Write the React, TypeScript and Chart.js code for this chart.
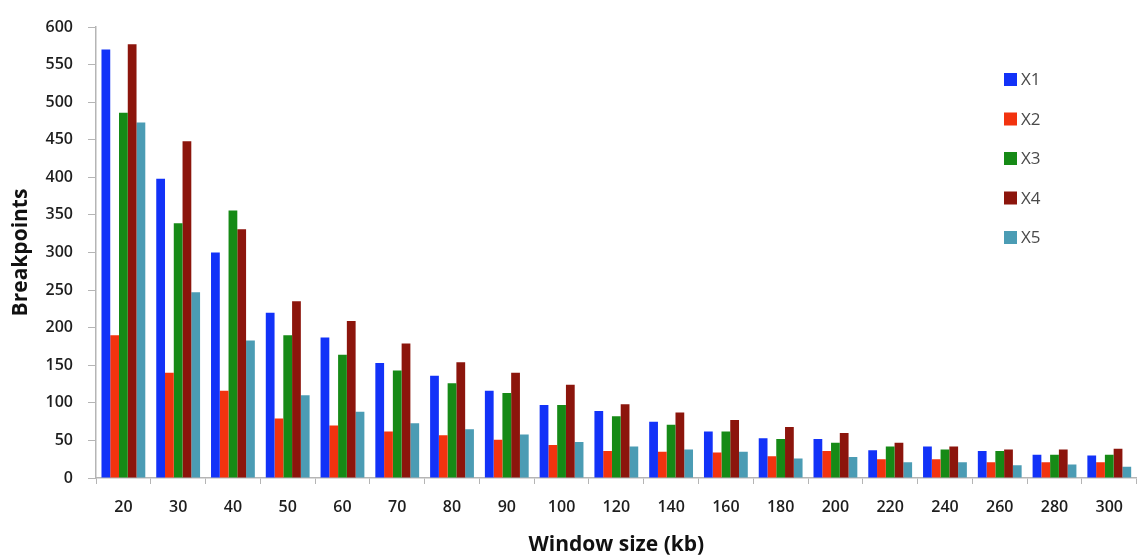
import React, { useEffect, useRef } from "react";
import { Chart, registerables } from "chart.js";

Chart.register(...registerables);

const categories = ["20", "30", "40", "50", "60", "70", "80", "90", "100", "120", "140", "160", "180", "200", "220", "240", "260", "280", "300"];
const x1 = [570, 398, 300, 220, 187, 153, 136, 116, 97, 89, 75, 62, 53, 52, 37, 42, 36, 31, 30];
const x2 = [190, 140, 116, 79, 70, 62, 57, 51, 44, 36, 35, 34, 29, 36, 25, 25, 21, 21, 21];
const x3 = [486, 339, 356, 190, 164, 143, 126, 113, 97, 82, 71, 62, 52, 47, 42, 38, 36, 31, 31];
const x4 = [577, 448, 331, 235, 209, 179, 154, 140, 124, 98, 87, 77, 68, 60, 47, 42, 38, 38, 39];
const x5 = [473, 247, 183, 110, 88, 73, 65, 58, 48, 42, 38, 35, 26, 28, 21, 21, 17, 18, 15];
const seriesNames = ["X1", "X2", "X3", "X4", "X5"];
const seriesColors = ["#1232f8", "#f2330f", "#168a16", "#8c150c", "#4b9cb4"];
const yTicks = [0, 50, 100, 150, 200, 250, 300, 350, 400, 450, 500, 550, 600];

const FONT = "'Open Sans', 'Liberation Sans', sans-serif";

const legendPlugin = {
  id: "insideLegend",
  afterDraw(chart: any) {
    const ctx = chart.ctx;
    ctx.save();
    ctx.font = `17px ${FONT}`;
    ctx.textBaseline = "middle";
    ctx.textAlign = "left";
    chart.data.datasets.forEach((ds: any, i: number) => {
      const cy = 79.5 + i * 39.5;
      ctx.fillStyle = ds.backgroundColor;
      ctx.fillRect(1004, cy - 6.5, 13, 13);
      ctx.fillStyle = "#4a4a4a";
      ctx.fillText(ds.label, 1021, cy + 1);
    });
    ctx.restore();
  },
};

export default function App() {
  const ref = useRef<HTMLCanvasElement>(null);
  useEffect(() => {
    if (!ref.current) return;
    const values = [x1, x2, x3, x4, x5];
    const chart = new Chart(ref.current, {
      type: "bar",
      data: {
        labels: categories,
        datasets: seriesNames.map((n, i) => ({
          label: n,
          data: values[i],
          backgroundColor: seriesColors[i],
          borderWidth: 0,
          categoryPercentage: 0.8,
          barPercentage: 1.0,
        })),
      },
      options: {
        responsive: false,
        animation: false,
        layout: { padding: { top: 27, right: 0, left: 0, bottom: 0 } },
        plugins: { legend: { display: false }, tooltip: { enabled: false } },
        scales: {
          x: {
            grid: { display: true, drawOnChartArea: false, tickLength: 6, tickColor: "#b5b5b5", offset: true },
            border: { display: true, color: "#b5b5b5", width: 1.5 },
            ticks: { color: "#1e1e1e", font: { family: FONT, size: 16, weight: 600 }, padding: 14, maxRotation: 0, autoSkip: false },
            title: { display: true, text: "Window size (kb)", color: "#111", font: { family: FONT, size: 21, weight: "bold" }, padding: { bottom: 0, top: 0 } },
            afterFit(scale: any) { scale.height = 80; },
          },
          y: {
            min: 0,
            max: 600,
            afterBuildTicks(scale: any) { scale.ticks = yTicks.map((v) => ({ value: v })); },
            grid: { display: true, drawOnChartArea: false, tickLength: 8, tickColor: "#b5b5b5" },
            border: { display: true, color: "#b5b5b5", width: 1.5 },
            ticks: { color: "#1e1e1e", font: { family: FONT, size: 16, weight: 600 }, padding: 15 },
            title: { display: true, text: "Breakpoints", color: "#111", font: { family: FONT, size: 21, weight: "bold" }, padding: { top: 8, bottom: 0 } },
            afterFit(scale: any) { scale.width = 96; },
          },
        },
      },
      plugins: [legendPlugin],
    });
    return () => chart.destroy();
  }, []);
  return (
    <div style={{ position: "fixed", left: 0, top: 0, width: 1137, height: 558, background: "#fff" }}>
      <canvas ref={ref} width={1137} height={558} style={{ display: "block" }} />
    </div>
  );
}
